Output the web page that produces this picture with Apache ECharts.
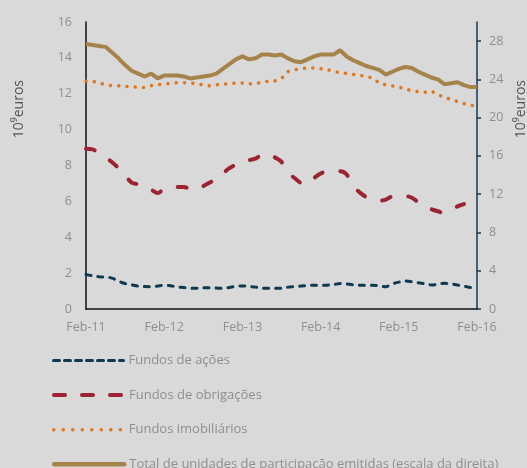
<!DOCTYPE html>
<html>
<head>
<meta charset="utf-8">
<script src="https://cdn.jsdelivr.net/npm/echarts@6/dist/echarts.min.js"></script>
<style>
  html, body { margin: 0; padding: 0; background: #d9d9d9; }
  #echarts { width: 527px; height: 468px; }
</style>
</head>
<body>
<div id="echarts"></div>
<script>
// Monthly categories Feb-11 .. Feb-16
const months = ['Jan', 'Feb', 'Mar', 'Apr', 'May', 'Jun', 'Jul', 'Aug', 'Sep', 'Oct', 'Nov', 'Dec'];
const categories = [];
for (let y = 11; y <= 16; y++) {
    months.forEach((m, i) => {
        if ((y === 11 && i < 1) || (y === 16 && i > 1)) return;
        categories.push(m + '-' + y);
    });
}

const leftTicks = [0, 2, 4, 6, 8, 10, 12, 14, 16];
const rightTicks = [0, 4, 8, 12, 16, 20, 24, 28];

const seriesNames = [
    'Fundos de ações',
    'Fundos de obrigações',
    'Fundos imobiliários',
    'Total de unidades de participação emitidas (escala da direita)'
];

// Fundos de ações (left axis)
const acoes = [
    1.93, 1.85, 1.8, 1.78, 1.72, 1.55, 1.42, 1.35, 1.28, 1.25, 1.24, 1.28,
    1.32, 1.3, 1.22, 1.2, 1.15, 1.16, 1.18, 1.18, 1.17, 1.15, 1.2, 1.27,
    1.28, 1.26, 1.22, 1.16, 1.15, 1.15, 1.16, 1.22, 1.25, 1.28, 1.3, 1.33,
    1.33, 1.33, 1.36, 1.42, 1.4, 1.35, 1.33, 1.33, 1.33, 1.28, 1.24, 1.4,
    1.5, 1.56, 1.52, 1.46, 1.4, 1.34, 1.38, 1.43, 1.4, 1.34, 1.28, 1.2, 1.2
];

// Fundos de obrigações (left axis)
const obrigacoes = [
    8.93, 8.9, 8.7, 8.45, 8.18, 7.85, 7.45, 7.05, 6.95, 6.8, 6.65, 6.46,
    6.7, 6.75, 6.8, 6.8, 6.7, 6.65, 6.85, 7.05, 7.25, 7.55, 7.85, 8.05,
    8.22, 8.3, 8.38, 8.6, 8.65, 8.45, 8.2, 7.6, 7.3, 7.02, 6.98, 7.3,
    7.55, 7.68, 7.68, 7.68, 7.5, 6.85, 6.5, 6.24, 6.12, 6.04, 6.1, 6.28,
    6.3, 6.3, 6.2, 5.95, 5.75, 5.56, 5.45, 5.35, 5.5, 5.72, 5.85, null, null
];

// Fundos imobiliários (left axis)
const imobiliarios = [
    12.7, 12.7, 12.6, 12.5, 12.45, 12.45, 12.4, 12.4, 12.35, 12.35, 12.45, 12.5,
    12.55, 12.57, 12.62, 12.62, 12.6, 12.55, 12.5, 12.44, 12.5, 12.55, 12.54, 12.6,
    12.6, 12.55, 12.57, 12.63, 12.7, 12.72, 12.85, 13.24, 13.33, 13.4, 13.45, 13.44,
    13.4, 13.35, 13.25, 13.17, 13.13, 13.08, 13.03, 12.96, 12.88, 12.6, 12.5, 12.44,
    12.38, 12.27, 12.17, 12.12, 12.08, 12.15, 11.95, 11.8, 11.68, 11.57, 11.45, 11.36, 11.33
];

// Total de unidades de participação emitidas (right axis)
const total = [
    27.7, 27.6, 27.5, 27.4, 26.8, 26.2, 25.5, 24.9, 24.6, 24.3, 24.6, 24.1,
    24.4, 24.4, 24.4, 24.3, 24.1, 24.2, 24.3, 24.4, 24.6, 25.1, 25.6, 26.1,
    26.4, 26.1, 26.2, 26.6, 26.6, 26.5, 26.6, 26.2, 25.9, 25.8, 26.1, 26.4,
    26.6, 26.6, 26.6, 27.05, 26.4, 26.0, 25.7, 25.4, 25.2, 25.0, 24.5, 24.8,
    25.1, 25.3, 25.2, 24.8, 24.5, 24.2, 24.0, 23.5, 23.6, 23.7, 23.4, 23.2, 23.2
];

const FONT = 'Open Sans';
const labelColor = '#8f8f8f';
const colors = ['#0d3a52', '#9b2430', '#e0761c', '#a5834a'];

// one legend per row so nothing wraps into a second column
const legendLines = [
    { width: 3, type: [6, 5], cap: 'round' },
    { width: 4, type: [11, 17], cap: 'round' },
    { width: 3.5, type: [0.1, 9.4], cap: 'round' },
    { width: 4.5, type: 'solid', cap: 'round' }
];
const legends = seriesNames.map((name, i) => ({
    orient: 'vertical',
    left: 47,
    top: 349 + i * 34.6,
    itemWidth: 70,
    itemHeight: 14,
    data: [name],
    itemStyle: { opacity: 0 },
    lineStyle: legendLines[i],
    textStyle: { color: labelColor, fontSize: 13, fontFamily: FONT }
}));

const chart = echarts.init(document.getElementById('echarts'));

const option = {
    backgroundColor: '#d9d9d9',
    animation: false,
    textStyle: { fontFamily: FONT },
    grid: { left: 86, right: 50, top: 22, bottom: 159 },
    legend: legends,
    xAxis: {
        type: 'category',
        data: categories,
        boundaryGap: false,
        axisLine: { lineStyle: { color: '#111', width: 1.5 } },
        axisTick: { show: false },
        axisLabel: { interval: 11, color: labelColor, fontSize: 12.5, margin: 12 }
    },
    yAxis: [
        {
            type: 'value',
            min: 0,
            max: 16,
            interval: 2,
            axisLine: { show: true, lineStyle: { color: '#111', width: 1.5 } },
            axisTick: { show: false },
            splitLine: { show: false },
            axisLabel: { color: labelColor, fontSize: 12.5, margin: 14, customValues: leftTicks }
        },
        {
            type: 'value',
            min: 0,
            max: 30,
            interval: 2,
            position: 'right',
            axisLine: { show: true, lineStyle: { color: '#0d3a52', width: 1.5 } },
            axisTick: { show: true, length: 4, lineStyle: { color: '#0d3a52', width: 1.5 }, customValues: rightTicks },
            splitLine: { show: false },
            axisLabel: { color: labelColor, fontSize: 12.5, margin: 12, customValues: rightTicks }
        }
    ],
    graphic: [
        {
            type: 'text', left: 12, top: 80, rotation: Math.PI / 2,
            style: { text: '10⁹euros', fill: '#555', font: '14px "Open Sans"' }
        },
        {
            type: 'text', left: 514, top: 80, rotation: Math.PI / 2,
            style: { text: '10⁹euros', fill: '#555', font: '14px "Open Sans"' }
        }
    ],
    series: [
        {
            name: seriesNames[0],
            type: 'line',
            data: acoes,
            symbol: 'none',
            smooth: 0.3,
            lineStyle: { color: colors[0], width: 3, type: [5, 7], cap: 'round' },
            itemStyle: { color: colors[0] }
        },
        {
            name: seriesNames[1],
            type: 'line',
            data: obrigacoes,
            symbol: 'none',
            smooth: 0.3,
            lineStyle: { color: colors[1], width: 4, type: [9, 18], cap: 'round' },
            itemStyle: { color: colors[1] }
        },
        {
            name: seriesNames[2],
            type: 'line',
            data: imobiliarios,
            symbol: 'none',
            lineStyle: { color: colors[2], width: 3.5, type: [0.1, 8.2], cap: 'round' },
            itemStyle: { color: colors[2] }
        },
        {
            name: seriesNames[3],
            type: 'line',
            yAxisIndex: 1,
            data: total,
            symbol: 'none',
            lineStyle: { color: colors[3], width: 4 },
            itemStyle: { color: colors[3] }
        }
    ]
};

chart.setOption(option);
</script>
</body>
</html>
